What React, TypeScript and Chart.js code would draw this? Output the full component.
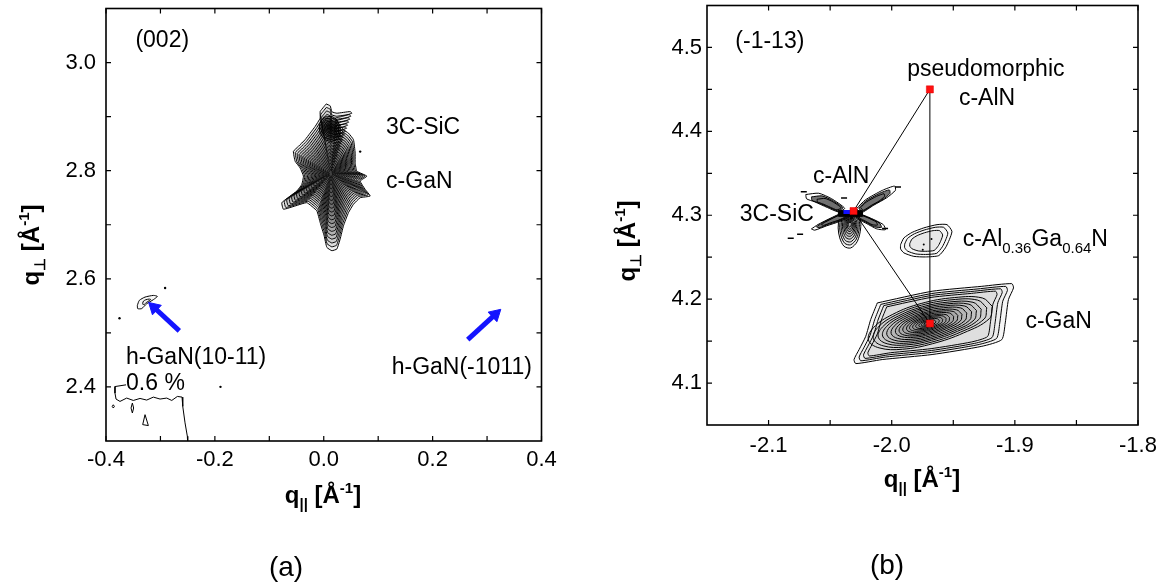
import React, { useEffect, useRef } from 'react';
import { Chart, registerables } from 'chart.js';

Chart.register(...registerables);
Chart.defaults.font.family = "'Liberation Sans', Arial, sans-serif";
Chart.defaults.color = '#000';

type P = [number, number];

// ================= Panel (a): (002) =================
const aXRange: P = [-0.4, 0.4];
const aYRange: P = [2.3, 3.1];
const aXTicks = [-0.4, -0.2, 0.0, 0.2, 0.4];
const aXMinor = [-0.3, -0.1, 0.1, 0.3];
const aYTicks = [2.4, 2.6, 2.8, 3.0];
const aYMinor = [2.5, 2.7, 2.9];

const aMainOutline: P[] = [
  [0.0044, 2.9235], [0.0118, 2.92], [0.0149, 2.909], [0.0241, 2.9063], [0.0485, 2.9094], [0.0517, 2.9063],
  [0.0333, 2.9002], [0.021, 2.8971], [0.0271, 2.8879], [0.0362, 2.8757], [0.0454, 2.8695], [0.0546, 2.8574],
  [0.0577, 2.8327], [0.0577, 2.8143], [0.0608, 2.7991], [0.0792, 2.7899], [0.0669, 2.7807], [0.0761, 2.7654],
  [0.0853, 2.7531], [0.0669, 2.75], [0.0546, 2.7379], [0.0454, 2.7224], [0.0362, 2.698], [0.0301, 2.6735],
  [0.0241, 2.6551], [0.0149, 2.652], [0.0057, 2.6581], [0.0007, 2.6796], [-0.0066, 2.704], [-0.0127, 2.7256],
  [-0.0311, 2.7408], [-0.0526, 2.7347], [-0.0741, 2.7287], [-0.077, 2.7408], [-0.0618, 2.7531], [-0.0495, 2.7623],
  [-0.0403, 2.7746], [-0.0373, 2.7899], [-0.0434, 2.8051], [-0.0526, 2.8175], [-0.0557, 2.8358], [-0.0465, 2.845],
  [-0.0342, 2.8574], [-0.025, 2.8695], [-0.0158, 2.8818], [-0.0066, 2.8971], [-0.0066, 2.9094], [-0.0006, 2.9173],
];
const aMainCenter: P = [0.013, 2.795];
const aMainLevels = [1, 0.95, 0.9, 0.85, 0.8, 0.75, 0.7, 0.65, 0.6, 0.55, 0.5, 0.45, 0.4, 0.35, 0.3, 0.25, 0.2, 0.15, 0.1, 0.06];

const aSiCOutline: P[] = [
  [-0.0005, 2.8989], [0.0149, 2.9002], [0.0241, 2.8941], [0.0301, 2.8787], [0.0271, 2.8603],
  [0.0149, 2.8542], [0.0026, 2.8574], [-0.0066, 2.8695], [-0.0079, 2.8849],
];
const aSiCCenter: P = [0.012, 2.879];
const aSiCLevels = [1, 0.85, 0.7, 0.56, 0.43, 0.3, 0.18, 0.08];

const aHexOutline: P[] = [
  [-0.3424, 2.5509], [-0.3388, 2.5601], [-0.3283, 2.5662], [-0.313, 2.5693], [-0.3057, 2.5675],
  [-0.313, 2.5614], [-0.3252, 2.554], [-0.3344, 2.5449], [-0.3418, 2.5449],
];
const aHexCenter: P = [-0.326, 2.558];
const aHexLevels = [1, 0.4];

const aEdgeLine: P[] = [
  [-0.3632, 2.4039], [-0.3835, 2.4007], [-0.3835, 2.3886], [-0.3816, 2.3776], [-0.3743, 2.3732], [-0.362, 2.3794],
  [-0.3498, 2.375], [-0.3375, 2.3787], [-0.3252, 2.3757], [-0.313, 2.3812], [-0.3007, 2.3776], [-0.2884, 2.3794],
  [-0.2792, 2.375], [-0.2689, 2.3824], [-0.2603, 2.3812], [-0.259, 2.364], [-0.2548, 2.3335], [-0.2506, 2.3088],
  [-0.2498, 2.2936],
];
const aSpeckA: P[] = [[-0.3866, 2.367], [-0.3846, 2.364], [-0.3866, 2.361], [-0.3886, 2.364]];
const aSpeckB: P[] = [[-0.3516, 2.3702], [-0.3492, 2.361], [-0.3516, 2.3518], [-0.354, 2.361]];
const aSpeckC: P[] = [[-0.3283, 2.3487], [-0.3222, 2.3285], [-0.3326, 2.3303]];
const aDots: P[] = [[-0.2914, 2.5829], [-0.3752, 2.527], [-0.1897, 2.4002], [0.0669, 2.8353]];
const aArrow1: P[] = [[-0.2653, 2.5037], [-0.3116, 2.5469]];
const aArrow2: P[] = [[0.2645, 2.4875], [0.3151, 2.5342]];

// ================= Panel (b): (-1-13) =================
const bXRange: P = [-2.15, -1.8];
const bYRange: P = [4.05, 4.55];
const bXTicks = [-2.1, -2.0, -1.9, -1.8];
const bXMinor = [-2.05, -1.95, -1.85];
const bYTicks = [4.1, 4.2, 4.3, 4.4, 4.5];
const bYMinor = [4.15, 4.25, 4.35, 4.45];

const bGaNOutline: P[] = [
  [-2.0117, 4.1955], [-1.9672, 4.2094], [-1.9268, 4.2153], [-1.9025, 4.2185], [-1.9011, 4.2134], [-1.9052, 4.1995],
  [-1.9078, 4.1717], [-1.9106, 4.1518], [-1.9268, 4.1438], [-1.9672, 4.134], [-2.0077, 4.128], [-2.0292, 4.1232],
  [-2.0306, 4.128], [-2.0265, 4.1399], [-2.0211, 4.1557], [-2.0171, 4.1756],
];
const bGaNCore: P[] = [
  [-1.9155, 4.1925], [-1.918, 4.1771], [-1.9400, 4.1592], [-1.9667, 4.1456], [-1.9922, 4.1387], [-2.0123, 4.1404],
  [-2.0214, 4.1503], [-2.0172, 4.1656], [-2.0006, 4.1825], [-1.9763, 4.1961], [-1.9480, 4.2035], [-1.9240, 4.2030],
];
const bGaNCenter: P = [-1.9715, 4.1709];
const bGaNOuterLevels = [1, 0.93, 0.87, 0.81];
const bGaNCoreLevels = [0.95, 0.87, 0.79, 0.72, 0.65, 0.58, 0.51, 0.45, 0.39, 0.33, 0.28, 0.23, 0.18, 0.13, 0.09, 0.05];

const bAlGaNOutline: P[] = [
  [-1.9928, 4.265], [-1.9901, 4.273], [-1.9834, 4.2796], [-1.974, 4.2849], [-1.9632, 4.2888], [-1.9551, 4.2888],
  [-1.9511, 4.2808], [-1.9532, 4.2709], [-1.9564, 4.2611], [-1.9618, 4.2519], [-1.9726, 4.2503], [-1.982, 4.251],
  [-1.9901, 4.2551], [-1.9928, 4.2599],
];
const bAlGaNCenter: P = [-1.972, 4.269];
const bAlGaNLevels = [1, 0.84, 0.64];
const bAlGaNDots: P[] = [[-1.9748, 4.259], [-1.974, 4.265], [-1.9677, 4.2718]];

const bWingUL: P[] = [[-2.0643, 4.3213], [-2.0562, 4.3225], [-2.0481, 4.3174], [-2.04, 4.3087], [-2.0441, 4.3055], [-2.0508, 4.3094], [-2.0589, 4.3147], [-2.0638, 4.3174]];
const bWingULCenter: P = [-2.046, 4.31];
const bWingUR: P[] = [[-2.0265, 4.3087], [-2.0211, 4.3166], [-2.0104, 4.3254], [-2.0028, 4.3293], [-2.0023, 4.3254], [-2.0077, 4.3186], [-2.0158, 4.3118], [-2.0239, 4.3046]];
const bWingURCenter: P = [-2.02, 4.311];
const bWingLL: P[] = [[-2.0603, 4.2868], [-2.0562, 4.2908], [-2.0481, 4.2968], [-2.0387, 4.3027], [-2.036, 4.2987], [-2.0427, 4.2936], [-2.0508, 4.2896], [-2.0583, 4.2856]];
const bWingLLCenter: P = [-2.044, 4.297];
const bWingLR: P[] = [[-2.0265, 4.3015], [-2.0184, 4.2968], [-2.0104, 4.2908], [-2.009, 4.2861], [-2.0144, 4.2868], [-2.0211, 4.292], [-2.0271, 4.2968]];
const bWingLRCenter: P = [-2.022, 4.297];
const bWingLevels = [1.3, 1.05, 0.8, 0.55, 0.3];
const bLobe: P[] = [[-2.0427, 4.2987], [-2.0265, 4.2987], [-2.0252, 4.2849], [-2.0279, 4.2689], [-2.0333, 4.261], [-2.0387, 4.263], [-2.0422, 4.273], [-2.0435, 4.2849]];
const bLobeCenter: P = [-2.034, 4.29];
const bLobeLevels = [1, 0.87, 0.75, 0.63, 0.52, 0.42, 0.32, 0.23, 0.14];
const bBar: P[] = [[-2.0433, 4.3055], [-2.0239, 4.3055], [-2.0239, 4.2987], [-2.0433, 4.2987]];
const bDashes: P[] = [[-2.0714, 4.3279], [-1.9949, 4.3336], [-2.0744, 4.2775], [-2.0054, 4.2842], [-2.082, 4.2726], [-2.0387, 4.3206]];

// Reflection positions: pseudomorphic c-AlN, c-AlN, c-GaN
const bMarkX = [-1.969, -2.031, -1.969];
const bMarkY = [4.45, 4.305, 4.171];
const bBlue: P[] = [[-2.0392, 4.3039], [-2.0335, 4.3039]];

type Run = { t: string; sub?: boolean };
type Label = { runs: Run[]; x: number; y: number };

const aLabels: Label[] = [
  { runs: [{ t: '(002)' }], x: -0.346, y: 3.028 },
  { runs: [{ t: '3C-SiC' }], x: 0.1145, y: 2.8675 },
  { runs: [{ t: 'c-GaN' }], x: 0.1145, y: 2.7686 },
  { runs: [{ t: 'h-GaN(10-11)' }], x: -0.3632, y: 2.4417 },
  { runs: [{ t: '0.6 %' }], x: -0.3632, y: 2.3939 },
  { runs: [{ t: 'h-GaN(-1011)' }], x: 0.1248, y: 2.4241 },
];
const bLabels: Label[] = [
  { runs: [{ t: '(-1-13)' }], x: -2.127, y: 4.4994 },
  { runs: [{ t: 'pseudomorphic' }], x: -1.9874, y: 4.4662 },
  { runs: [{ t: 'c-AlN' }], x: -1.9454, y: 4.4317 },
  { runs: [{ t: 'c-AlN' }], x: -2.0639, y: 4.338 },
  { runs: [{ t: '3C-SiC' }], x: -2.1234, y: 4.293 },
  { runs: [{ t: 'c-Al' }, { t: '0.36', sub: true }, { t: 'Ga' }, { t: '0.64', sub: true }, { t: 'N' }], x: -1.9424, y: 4.2638 },
  { runs: [{ t: 'c-GaN' }], x: -1.8914, y: 4.1656 },
];

const FONT = "'Liberation Sans', Arial, sans-serif";
const BLUE = '#1414ff';

const pts = (a: P[]) => a.map(([x, y]) => ({ x, y }));
const closed = (a: P[]) => pts([...a, a[0]]);
const ring = (o: P[], c: P, s: number) => {
  const r = o.map(([x, y]) => ({ x: c[0] + s * (x - c[0]), y: c[1] + s * (y - c[1]) }));
  r.push({ ...r[0] });
  return r;
};
function rings(o: P[], c: P, levels: number[], fills: string[], extra: any = {}) {
  return levels.map((s, i) => ({
    data: ring(o, c, s),
    borderColor: '#000',
    borderWidth: 1,
    pointRadius: 0,
    fill: 'shape',
    backgroundColor: fills[i % fills.length],
    tension: 0,
    ...extra,
  }));
}
const shape = (a: P[], fillCol: string, bw = 1) => ({
  data: closed(a), borderColor: '#000', borderWidth: bw, pointRadius: 0, fill: 'shape', backgroundColor: fillCol, tension: 0,
});

const arrowRot = (ctx: any) => {
  const ch = ctx.chart;
  const d = ctx.dataset.data;
  const xs = ch.scales.x;
  const ys = ch.scales.y;
  const dx = xs.getPixelForValue(d[1].x) - xs.getPixelForValue(d[0].x);
  const dy = ys.getPixelForValue(d[1].y) - ys.getPixelForValue(d[0].y);
  return (Math.atan2(dx, -dy) * 180) / Math.PI;
};
const arrow = (a: P[]) => ({
  data: pts(a), borderColor: BLUE, borderWidth: 5, borderCapStyle: 'butt',
  pointRadius: [0, 7.5], pointStyle: 'triangle', pointBackgroundColor: BLUE, pointBorderColor: BLUE,
  pointBorderWidth: 1, pointRotation: arrowRot, fill: false,
});

type RichRun = { t: string; size: number; dy: number; bold?: boolean };
function drawRich(ctx: CanvasRenderingContext2D, runs: RichRun[], x: number, y: number, align: 'left' | 'center', rot = 0) {
  ctx.save();
  ctx.translate(x, y);
  ctx.rotate(rot);
  ctx.textBaseline = 'alphabetic';
  ctx.textAlign = 'left';
  ctx.fillStyle = '#000';
  const ws = runs.map((r) => {
    ctx.font = `${r.bold ? 'bold ' : ''}${r.size}px ${FONT}`;
    return ctx.measureText(r.t).width;
  });
  const total = ws.reduce((s, w) => s + w, 0);
  let cx = align === 'center' ? -total / 2 : 0;
  runs.forEach((r, i) => {
    ctx.font = `${r.bold ? 'bold ' : ''}${r.size}px ${FONT}`;
    ctx.fillText(r.t, cx, r.dy);
    cx += ws[i];
  });
  ctx.restore();
}

type Decor = {
  xMajor: number[]; xMinor: number[]; yMajor: number[]; yMinor: number[];
  labels: Label[];
  xTitle: [number, number]; yTitle: [number, number];
  panel: { t: string; x: number; y: number };
};

function makeDecor(d: Decor) {
  return {
    id: 'decor',
    afterDatasetsDraw(chart: any) {
      const { ctx, chartArea: a, scales } = chart;
      const xs = scales.x;
      const ys = scales.y;
      ctx.save();
      ctx.strokeStyle = '#000';
      ctx.lineWidth = 1.2;
      const L = 5;
      ctx.beginPath();
      [...d.xMajor, ...d.xMinor].forEach((v) => {
        const p = xs.getPixelForValue(v);
        ctx.moveTo(p, a.bottom); ctx.lineTo(p, a.bottom - L);
        ctx.moveTo(p, a.top); ctx.lineTo(p, a.top + L);
      });
      [...d.yMajor, ...d.yMinor].forEach((v) => {
        const p = ys.getPixelForValue(v);
        ctx.moveTo(a.left, p); ctx.lineTo(a.left + L, p);
        ctx.moveTo(a.right, p); ctx.lineTo(a.right - L, p);
      });
      ctx.stroke();
      ctx.lineWidth = 1.6;
      ctx.strokeRect(a.left, a.top, a.right - a.left, a.bottom - a.top);
      ctx.restore();
    },
    afterDraw(chart: any) {
      const { ctx, scales } = chart;
      const xs = scales.x;
      const ys = scales.y;
      d.labels.forEach((lb) => {
        const runs: RichRun[] = lb.runs.map((r) => ({ t: r.t, size: r.sub ? 15 : 23, dy: r.sub ? 7 : 0 }));
        drawRich(ctx, runs, xs.getPixelForValue(lb.x), ys.getPixelForValue(lb.y), 'left');
      });
      drawRich(ctx, [
        { t: 'q', size: 24, dy: 0, bold: true },
        { t: '||', size: 15, dy: 6, bold: true },
        { t: ' [Å', size: 24, dy: 0, bold: true },
        { t: '-1', size: 15, dy: -10, bold: true },
        { t: ']', size: 24, dy: 0, bold: true },
      ], d.xTitle[0], d.xTitle[1], 'center');
      drawRich(ctx, [
        { t: 'q', size: 24, dy: 0, bold: true },
        { t: '⊥', size: 15, dy: 6, bold: true },
        { t: ' [Å', size: 24, dy: 0, bold: true },
        { t: '-1', size: 15, dy: -10, bold: true },
        { t: ']', size: 24, dy: 0, bold: true },
      ], d.yTitle[0], d.yTitle[1], 'center', -Math.PI / 2);
      drawRich(ctx, [{ t: d.panel.t, size: 28, dy: 0 }], d.panel.x, d.panel.y, 'center');
    },
  };
}

function axisOpts(range: P, major: number[], axis: 'x' | 'y', size: number, pad: number) {
  return {
    type: 'linear',
    min: range[0],
    max: range[1],
    grid: { display: false, drawTicks: false },
    border: { display: false },
    title: { display: false },
    ticks: {
      color: '#000',
      font: { size: 22, family: FONT },
      padding: pad,
      autoSkip: false,
      maxRotation: 0,
      callback: (v: any) => Number(v).toFixed(1),
    },
    afterBuildTicks: (s: any) => { s.ticks = major.map((v) => ({ value: v })); },
    afterFit: (s: any) => {
      if (axis === 'x') s.height = size; else s.width = size;
      s.paddingTop = 0; s.paddingBottom = 0; s.paddingLeft = 0; s.paddingRight = 0;
    },
  };
}

function useChart(ref: React.RefObject<HTMLCanvasElement>, build: () => any) {
  useEffect(() => {
    if (!ref.current) return;
    const ch = new Chart(ref.current, build());
    return () => ch.destroy();
  }, []);
}

function baseOptions(extra: any) {
  return {
    responsive: false,
    animation: false,
    events: [],
    plugins: { legend: { display: false }, tooltip: { enabled: false } },
    elements: { line: { tension: 0 } },
    ...extra,
  };
}

const WING_FILLS = ['rgba(255,255,255,0)', 'rgba(0,0,0,0.55)', 'rgba(255,255,255,0.95)', 'rgba(0,0,0,0.45)', 'rgba(255,255,255,0.9)'];

export default function App() {
  const refA = useRef<HTMLCanvasElement>(null);
  const refB = useRef<HTMLCanvasElement>(null);

  useChart(refA, () => {
    const datasets: any[] = [
      arrow(aArrow1),
      arrow(aArrow2),
      { data: pts(aDots), showLine: false, pointRadius: 1.2, pointBackgroundColor: '#000', pointBorderWidth: 0 },
      ...rings(aSiCOutline, aSiCCenter, aSiCLevels, ['rgba(0,0,0,0.2)'], { tension: 0.2 }),
      ...rings(aMainOutline, aMainCenter, aMainLevels, ['rgba(0,0,0,0.07)'], { tension: 0.12 }),
      ...rings(aHexOutline, aHexCenter, aHexLevels, ['rgba(0,0,0,0.03)'], { tension: 0.2 }),
      { data: pts(aEdgeLine), borderColor: '#000', borderWidth: 1, pointRadius: 0, fill: false },
      shape(aSpeckA, 'rgba(0,0,0,0)'),
      shape(aSpeckB, 'rgba(0,0,0,0)'),
      shape(aSpeckC, 'rgba(0,0,0,0)'),
    ];
    return {
      type: 'line',
      data: { datasets },
      options: baseOptions({
        layout: { padding: { left: 0, right: 38.5, top: 5.5, bottom: 0 } },
        scales: {
          x: axisOpts(aXRange, aXTicks, 'x', 142, 6),
          y: axisOpts(aYRange, aYTicks, 'y', 106, 10),
        },
      }),
      plugins: [makeDecor({
        xMajor: aXTicks, xMinor: aXMinor, yMajor: aYTicks, yMinor: aYMinor,
        labels: aLabels, xTitle: [323, 503], yTitle: [39, 245],
        panel: { t: '(a)', x: 286, y: 576 },
      })],
    };
  });

  useChart(refB, () => {
    const marks = bMarkX.map((x, i) => ({ x, y: bMarkY[i] }));
    const datasets: any[] = [
      { data: marks, showLine: false, pointStyle: 'rect', pointRadius: 5, pointBackgroundColor: '#ff1010', pointBorderColor: '#e00000', pointBorderWidth: 0.5 },
      { data: pts(bBlue), borderColor: '#1010ff', borderWidth: 4, pointRadius: 0, borderCapStyle: 'butt', fill: false },
      { data: [marks[0], marks[1], marks[2], marks[0]], borderColor: '#000', borderWidth: 1, pointRadius: 0, fill: false },
      { data: pts(bDashes), showLine: false, pointStyle: 'line', pointRadius: 3, pointBorderColor: '#000', pointBorderWidth: 1.5 },
      { data: pts(bAlGaNDots), showLine: false, pointRadius: 1, pointBackgroundColor: '#000', pointBorderWidth: 0 },
      shape(bBar, '#000'),
      ...rings(bWingUL, bWingULCenter, bWingLevels, WING_FILLS, { tension: 0.2 }),
      ...rings(bWingUR, bWingURCenter, bWingLevels, WING_FILLS, { tension: 0.2 }),
      ...rings(bWingLL, bWingLLCenter, bWingLevels, WING_FILLS, { tension: 0.2 }),
      ...rings(bWingLR, bWingLRCenter, bWingLevels, WING_FILLS, { tension: 0.2 }),
      ...rings(bLobe, bLobeCenter, bLobeLevels, ['rgba(0,0,0,0.05)'], { tension: 0.3 }),
      ...rings(bAlGaNOutline, bAlGaNCenter, bAlGaNLevels, ['rgba(0,0,0,0.02)', 'rgba(0,0,0,0.02)', 'rgba(0,0,0,0.06)'], { tension: 0.2 }),
      ...rings(bGaNCore, bGaNCenter, bGaNCoreLevels, ['rgba(0,0,0,0.035)'], { tension: 0.4 }),
      ...rings(bGaNOutline, bGaNCenter, bGaNOuterLevels, ['rgba(0,0,0,0.035)'], { tension: 0.2 }),
    ];
    return {
      type: 'line',
      data: { datasets },
      options: baseOptions({
        layout: { padding: { left: 0, right: 22, top: 5.5, bottom: 0 } },
        scales: {
          x: axisOpts(bXRange, bXTicks, 'x', 158, 8),
          y: axisOpts(bYRange, bYTicks, 'y', 127, 5),
        },
      }),
      plugins: [makeDecor({
        xMajor: bXTicks, xMinor: bXMinor, yMajor: bYTicks, yMinor: bYMinor,
        labels: bLabels, xTitle: [342, 487], yTitle: [55, 241],
        panel: { t: '(b)', x: 307, y: 574 },
      })],
    };
  });

  return (
    <div style={{ position: 'absolute', left: 0, top: 0, width: 1160, height: 583, background: '#fff', overflow: 'hidden' }}>
      <canvas ref={refA} width={580} height={583} style={{ position: 'absolute', left: 0, top: 0 }} />
      <canvas ref={refB} width={580} height={583} style={{ position: 'absolute', left: 580, top: 0 }} />
    </div>
  );
}
